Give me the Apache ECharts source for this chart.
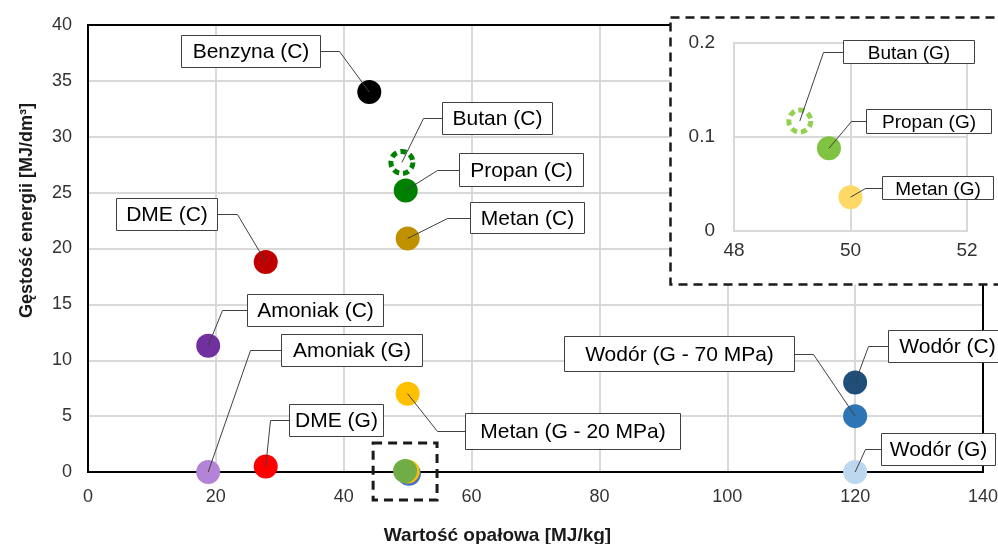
<!DOCTYPE html>
<html>
<head>
<meta charset="utf-8">
<script src="https://cdn.jsdelivr.net/npm/echarts@6/dist/echarts.min.js"></script>
<style>
  html, body { margin: 0; padding: 0; background: #fff; }
  #chart { width: 998px; height: 544px; }
</style>
</head>
<body>
<div id="chart"></div>
<script>
// Fuels: lower heating value [MJ/kg] vs volumetric energy density [MJ/dm3]
const fuelNames = ['Benzyna (C)', 'Butan (C)', 'Propan (C)', 'Metan (C)', 'DME (C)', 'Amoniak (C)',
  'Amoniak (G)', 'DME (G)', 'Metan (G - 20 MPa)', 'Wodór (C)', 'Wodór (G - 70 MPa)', 'Wodór (G)'];
const fuelHeatingValue = [44.0, 49.1, 49.7, 50.0, 27.8, 18.8, 18.8, 27.8, 50.0, 120, 120, 120];
const fuelEnergyDensity = [34.0, 27.7, 25.2, 20.9, 18.8, 11.3, 0.0, 0.5, 7.0, 8.0, 5.0, 0.0];

// Gaseous hydrocarbons at ambient pressure, overlapping near 50 MJ/kg on the main scale
const clusterHeatingValue = [50.2, 50.0, 49.6];
const clusterEnergyDensity = [-0.15, 0.036, 0.088];

// Same gases, shown in the magnified view
const gasNames = ['Butan (G)', 'Propan (G)', 'Metan (G)'];
const gasHeatingValue = [49.13, 49.63, 50.0];
const gasEnergyDensity = [0.117, 0.088, 0.036];

// Axis ticks
const mainXTicks = { min: 0, max: 140, step: 20 };
const mainYTicks = { min: 0, max: 40, step: 5 };
const zoomXTicks = { min: 48, max: 52, step: 2 };
const zoomYTicks = { min: 0, max: 0.2, step: 0.1 };

// Extent of the highlighted window (data units)
const windowHeatingValue = [44.6, 54.6];
const windowEnergyDensity = [-2.5, 2.6];

// ---- styling ----
const FONT = '"Liberation Sans", Arial, sans-serif';
const fuelColors = ['#000000', '#008000', '#008000', '#bf9000', '#c00000', '#7030a0',
  '#b283d6', '#ff0000', '#ffc000', '#1f4e79', '#2e75b6', '#bdd7ee'];
const fuelDashed = [false, true, false, false, false, false, false, false, false, false, false, false];
const clusterColors = ['#4472c4', '#ffc000', '#70ad47'];
const gasColors = ['#92d050', '#80c342', '#ffd966'];
const gasDashed = [true, false, false];

// Callout boxes: [dx, dy, width, height, side, elbow] in pixels relative to the marker centre.
// side 'R' = box right of marker (leader leaves its left edge), 'L' = box left of marker.
const fuelCallouts = [
  [-188, -57, 139, 32, 'L', 19],
  [40, -60, 110, 32, 'R', 19],
  [53, -37, 124, 33, 'R', 22],
  [62, -36, 114, 31, 'R', 23],
  [-150, -64, 101, 32, 'L', 20],
  [39, -52, 136, 32, 'R', 25],
  [73, -138, 141, 32, 'R', 31],
  [23, -62, 94, 32, 'R', 19],
  [57, 19, 215, 36, 'R', 28],
  [33, -53, 118, 32, 'R', 20],
  [-291, -80, 230, 35, 'L', 19],
  [26, -39, 114, 32, 'R', 16]
];
const gasCallouts = [
  [43, -81, 131, 23, 'R', 20],
  [37, -39, 125, 24, 'R', 15],
  [31, -21, 111, 23, 'R', 17]
];

function pointItems(xs, ys, colors, dashed) {
  return xs.map((x, i) => ({
    value: [x, ys[i]],
    symbolSize: dashed[i] ? 22 : 24,
    itemStyle: dashed[i]
      ? { color: 'rgba(0,0,0,0)', borderColor: colors[i], borderWidth: 5, borderType: [6, 4], opacity: 1 }
      : { color: colors[i], opacity: 1 }
  }));
}

function calloutRenderer(names, callouts, fontSize) {
  return function (params, api) {
    const i = params.dataIndex;
    const p = api.coord([api.value(0), api.value(1)]);
    const c = callouts[i];
    const bx = Math.round(p[0] + c[0]) + 0.5;
    const by = Math.round(p[1] + c[1]) + 0.5;
    const w = c[2], h = c[3];
    const ay = by + Math.round(h / 2);
    const ax = c[4] === 'R' ? bx : bx + w;
    const ex = c[4] === 'R' ? ax - c[5] : ax + c[5];
    return {
      type: 'group',
      children: [
        { type: 'polyline', shape: { points: [[ax, ay], [ex, ay], [p[0], p[1]]] },
          style: { stroke: '#404040', lineWidth: 1, fill: null } },
        { type: 'rect', shape: { x: bx, y: by, width: w, height: h },
          style: { fill: '#ffffff', stroke: '#404040', lineWidth: 1 } },
        { type: 'text', style: { x: bx + w / 2, y: ay + 1, text: names[i], align: 'center',
          verticalAlign: 'middle', font: fontSize + 'px ' + FONT, fill: '#000000' } }
      ]
    };
  };
}

function valueAxis(ticks, gridIndex, extra) {
  return Object.assign({
    type: 'value', gridIndex: gridIndex,
    min: ticks.min, max: ticks.max, interval: ticks.step,
    axisLine: { show: false }, axisTick: { show: false },
    splitLine: { show: true, lineStyle: { color: '#d9d9d9', width: 2 } },
    axisLabel: { fontFamily: FONT, fontSize: 18, color: '#333333', margin: 16 }
  }, extra);
}

const chart = echarts.init(document.getElementById('chart'), null, { renderer: 'canvas' });

chart.setOption({
  animation: false,
  backgroundColor: '#ffffff',
  grid: [
    { left: 88, top: 25, right: 15, bottom: 72, show: true, borderColor: '#000000', borderWidth: 2,
      backgroundColor: 'rgba(0,0,0,0)', outerBoundsMode: 'none', containLabel: false, z: 1 },
    { left: 734, top: 43, right: 31, bottom: 313, show: true, borderColor: '#d9d9d9', borderWidth: 2,
      backgroundColor: 'rgba(0,0,0,0)', outerBoundsMode: 'none', containLabel: false, z: 11 }
  ],
  xAxis: [
    valueAxis(mainXTicks, 0, {
      name: 'Wartość opałowa [MJ/kg]', nameLocation: 'middle', nameGap: 54,
      nameTextStyle: { fontFamily: FONT, fontSize: 19, fontWeight: 'bold', color: '#1a1a1a', padding: [0, 76, 0, 0] }
    }),
    valueAxis(zoomXTicks, 1, {
      z: 10,
      axisLabel: { fontFamily: FONT, fontSize: 19, color: '#333333', margin: 10 }
    })
  ],
  yAxis: [
    valueAxis(mainYTicks, 0, {
      name: 'Gęstość energii [MJ/dm³]', nameLocation: 'middle', nameGap: 52, nameRotate: 90,
      nameTextStyle: { fontFamily: FONT, fontSize: 18, fontWeight: 'bold', color: '#1a1a1a', padding: [0, 0, 0, 76] }
    }),
    valueAxis(zoomYTicks, 1, {
      z: 10,
      axisLabel: { fontFamily: FONT, fontSize: 19, color: '#333333', margin: 19 }
    })
  ],
  graphic: [
    {
      type: 'rect', z: 5, silent: true,
      shape: { x: 670.5, y: 17.5, width: 340, height: 267 },
      style: { fill: '#ffffff', stroke: '#1a1a1a', lineWidth: 2.5, lineDash: [9, 6] }
    }
  ],
  series: [
    {
      type: 'scatter', xAxisIndex: 0, yAxisIndex: 0, z: 2, clip: false, silent: true,
      symbol: 'circle',
      data: pointItems(clusterHeatingValue, clusterEnergyDensity, clusterColors, [false, false, false])
    },
    {
      type: 'scatter', xAxisIndex: 0, yAxisIndex: 0, z: 2, clip: false, silent: true,
      symbol: 'circle',
      data: pointItems(fuelHeatingValue, fuelEnergyDensity, fuelColors, fuelDashed)
    },
    {
      type: 'custom', xAxisIndex: 0, yAxisIndex: 0, z: 3, clip: false, silent: true,
      data: fuelHeatingValue.map((x, i) => [x, fuelEnergyDensity[i]]),
      renderItem: calloutRenderer(fuelNames, fuelCallouts, 21)
    },
    {
      type: 'custom', xAxisIndex: 0, yAxisIndex: 0, z: 4, clip: false, silent: true,
      data: [[windowHeatingValue[0], windowEnergyDensity[1], windowHeatingValue[1], windowEnergyDensity[0]]],
      renderItem: function (params, api) {
        const a = api.coord([api.value(0), api.value(1)]);
        const b = api.coord([api.value(2), api.value(3)]);
        return {
          type: 'rect',
          shape: { x: a[0], y: a[1], width: b[0] - a[0], height: b[1] - a[1] },
          style: { fill: null, stroke: '#1a1a1a', lineWidth: 3, lineDash: [9, 6] }
        };
      }
    },
    {
      type: 'scatter', xAxisIndex: 1, yAxisIndex: 1, z: 12, clip: false, silent: true,
      symbol: 'circle',
      data: pointItems(gasHeatingValue, gasEnergyDensity, gasColors, gasDashed)
    },
    {
      type: 'custom', xAxisIndex: 1, yAxisIndex: 1, z: 13, clip: false, silent: true,
      data: gasHeatingValue.map((x, i) => [x, gasEnergyDensity[i]]),
      renderItem: calloutRenderer(gasNames, gasCallouts, 19)
    }
  ]
});
</script>
</body>
</html>
